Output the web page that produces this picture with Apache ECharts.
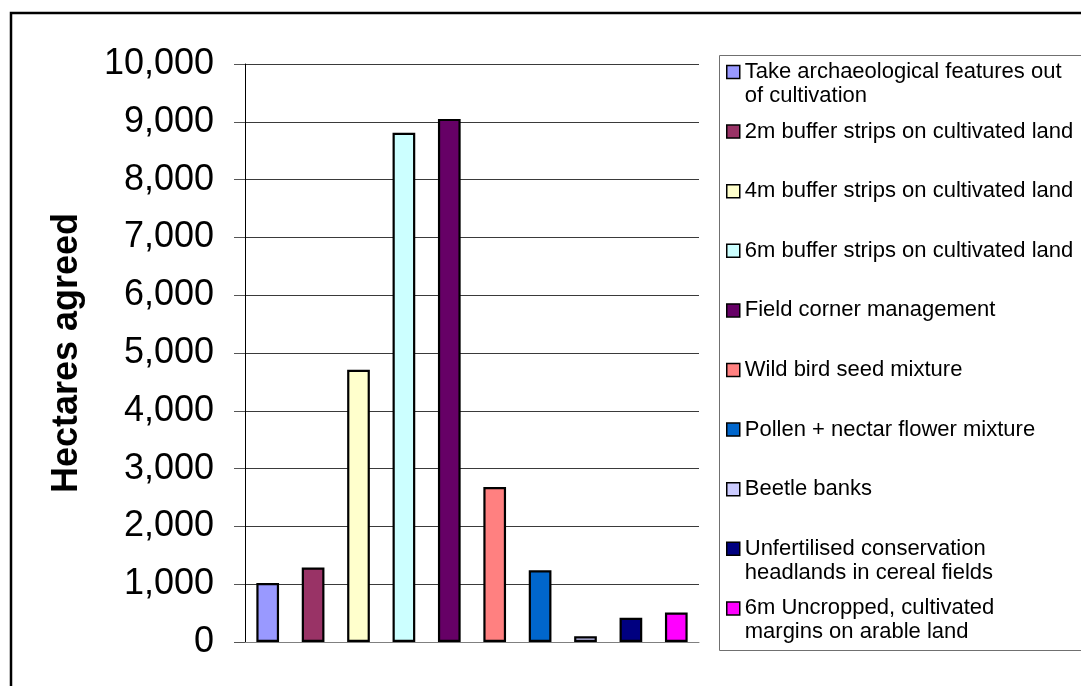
<!DOCTYPE html>
<html>
<head>
<meta charset="utf-8">
<script src="https://cdn.jsdelivr.net/npm/echarts@6/dist/echarts.min.js"></script>
<style>
  html, body { margin: 0; padding: 0; background: #fff; }
  #chart { width: 1081px; height: 686px; }
</style>
</head>
<body>
<div id="chart"></div>
<script>
// Land management options (legend text, with line breaks as shown)
const options = [
  'Take archaeological features out\nof cultivation',
  '2m buffer strips on cultivated land',
  '4m buffer strips on cultivated land',
  '6m buffer strips on cultivated land',
  'Field corner management',
  'Wild bird seed mixture',
  'Pollen + nectar flower mixture',
  'Beetle banks',
  'Unfertilised conservation\nheadlands in cereal fields',
  '6m Uncropped, cultivated\nmargins on arable land'
];

// Hectares agreed under each option
const hectares = [1020, 1290, 4710, 8810, 9050, 2680, 1240, 100, 420, 510];

// Value axis range
const yMin = 0;
const yMax = 10000;
const yStep = 1000;

// Fill colour per option
const palette = ['#9999FF', '#993366', '#FFFFCC', '#CCFFFF', '#660066',
                 '#FF8080', '#0066CC', '#CCCCFF', '#000080', '#FF00FF'];

const FONT = '"Liberation Sans", Arial, Helvetica, sans-serif';
const chart = echarts.init(document.getElementById('chart'), null, { renderer: 'canvas' });

// One series per option so each gets its own legend entry; stacking keeps one bar per slot
const series = options.map((name, i) => ({
  name: name,
  type: 'bar',
  stack: 'all',
  barWidth: '50%',
  itemStyle: { color: palette[i], borderColor: '#000', borderWidth: 2.2 },
  emphasis: { disabled: true },
  data: hectares.map((v, j) => (j === i ? v : '-'))
}));

// Legend entries laid out at an even pitch inside the framed key.
// Wrapped entries get an empty leading line so the swatch sits beside the first line.
const legendRowStart = 72;
const legendPitch = 59.6;
const lineH = 24;
const legends = options.map((name, i) => {
  const twoLine = name.indexOf('\n') >= 0;
  const half = twoLine ? lineH * 1.5 : lineH / 2;
  return {
    data: [name],
    left: 726,
    top: legendRowStart + i * legendPitch - half,
    padding: 0,
    itemWidth: 13,
    itemHeight: 13,
    icon: 'rect',
    selectedMode: false,
    formatter: n => (twoLine ? '\n' + n : n),
    itemStyle: { borderColor: '#000', borderWidth: 1.5 },
    textStyle: {
      fontFamily: FONT,
      fontSize: 22,
      color: '#000',
      lineHeight: lineH
    }
  };
});

chart.setOption({
  animation: false,
  backgroundColor: '#fff',
  grid: { left: 245, right: 382, top: 64, bottom: 44, containLabel: false },
  legend: legends,
  xAxis: {
    type: 'category',
    data: options,
    axisLine: { show: true, lineStyle: { color: '#808080', width: 1 } },
    axisTick: { show: false },
    axisLabel: { show: false },
    splitLine: { show: false }
  },
  yAxis: {
    type: 'value',
    min: yMin,
    max: yMax,
    interval: yStep,
    name: 'Hectares agreed',
    nameLocation: 'middle',
    nameGap: 160,
    nameRotate: 90,
    nameTextStyle: { fontFamily: FONT, fontSize: 36, fontWeight: 'bold', color: '#000' },
    axisLine: { show: true, lineStyle: { color: '#000', width: 1 } },
    axisTick: { show: true, inside: false, length: 11, lineStyle: { color: '#555' } },
    axisLabel: {
      fontFamily: FONT,
      fontSize: 36,
      color: '#000',
      margin: 31,
      formatter: v => v.toLocaleString('en-US')
    },
    splitLine: { show: true, lineStyle: { color: '#3a3a3a', width: 1 } }
  },
  graphic: [
    {
      // outer chart frame
      type: 'rect',
      shape: { x: 11, y: 13, width: 1100, height: 700 },
      style: { fill: 'none', stroke: '#000', lineWidth: 2.5 },
      silent: true
    },
    {
      // legend key frame
      type: 'rect',
      shape: { x: 719.5, y: 55.5, width: 400, height: 595 },
      style: { fill: 'none', stroke: '#707070', lineWidth: 1 },
      silent: true,
      z: -1
    }
  ],
  series: series
});
</script>
</body>
</html>
